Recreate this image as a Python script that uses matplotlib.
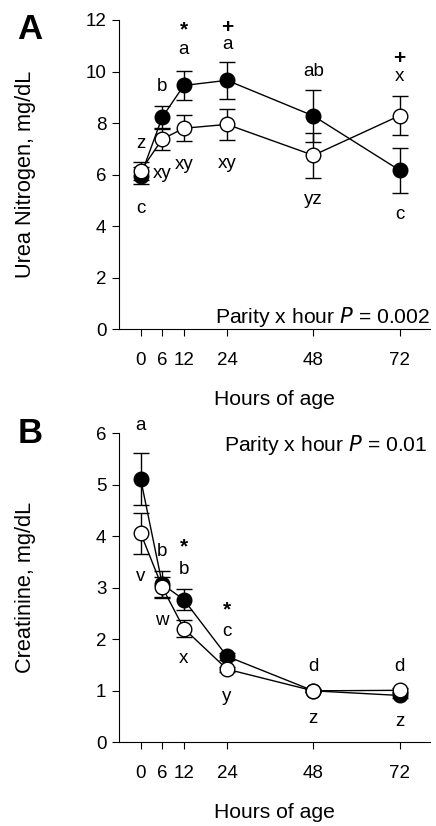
import matplotlib
matplotlib.use("Agg")
import matplotlib.pyplot as plt

plt.rcParams['font.family'] = ['Liberation Sans', 'DejaVu Sans']

hours = [0, 6, 12, 24, 48, 72]
xtick_labels = ['0', '6', '12', '24', '48', '72']

# Panel A: urea nitrogen (mg/dL)
urea_filled = [5.95, 8.23, 9.46, 9.66, 8.28, 6.17]
urea_filled_err = [0.33, 0.45, 0.58, 0.72, 1.00, 0.87]
urea_open = [6.15, 7.38, 7.80, 7.95, 6.75, 8.29]
urea_open_err = [0.35, 0.42, 0.50, 0.60, 0.88, 0.77]
urea_labels = [(12, 11.62, '*'), (12, 10.85, 'a'), (24, 11.69, '+'), (24, 11.04, 'a'),
               (6, 9.42, 'b'), (0, 7.22, 'z'), (0, 4.70, 'c'), (6, 6.06, 'xy'),
               (12, 6.38, 'xy'), (24, 6.45, 'xy'), (48, 10.0, 'ab'), (48, 5.02, 'yz'),
               (72, 10.52, '+'), (72, 9.81, 'x'), (72, 4.44, 'c')]

# Panel B: creatinine (mg/dL)
creat_filled = [5.11, 3.07, 2.77, 1.67, 1.00, 0.91]
creat_filled_err = [0.50, 0.25, 0.20, 0.07, 0.03, 0.04]
creat_open = [4.06, 3.01, 2.21, 1.42, 1.00, 1.01]
creat_open_err = [0.40, 0.20, 0.16, 0.05, 0.03, 0.04]
creat_labels = [(0, 6.16, 'a'), (6, 3.70, 'b'), (0, 3.22, 'v'), (12, 3.80, '*'),
                (12, 3.36, 'b'), (6, 2.36, 'w'), (12, 1.63, 'x'), (24, 2.57, '*'),
                (24, 2.15, 'c'), (24, 0.89, 'y'), (48, 1.47, 'd'), (48, 0.47, 'z'),
                (72, 1.47, 'd'), (72, 0.40, 'z')]

fig = plt.figure(figsize=(4.36, 8.26), dpi=100)

fs = 13.5      # tick labels and letter annotations
fs_lab = 15.2  # axis labels and P-value text

def panel(ax, yf, yfe, yo, yoe, labels, ylim, yticks, ylabel, letter, letter_y,
          ptext, ptxt_x, ptxt_y):
    ax.errorbar(hours, yf, yerr=yfe, fmt='-o', color='black', mfc='black', mec='black',
                ms=10.5, lw=1.0, elinewidth=1.0, capsize=5.5, capthick=1.0, zorder=2)
    ax.errorbar(hours, yo, yerr=yoe, fmt='-o', color='black', mfc='white', mec='black',
                ms=10.5, mew=1.0, lw=1.0, elinewidth=1.0, capsize=5.5, capthick=1.0, zorder=3)
    for x, y, t in labels:
        if t in ('*', '+'):
            ax.text(x, y, t, ha='center', va='center', fontsize=fs + 1.5, fontweight='bold')
        else:
            ax.text(x, y, t, ha='center', va='center', fontsize=fs)
    ax.set_xlim(-5.9, 80.4)
    ax.set_ylim(*ylim)
    ax.set_xticks(hours)
    ax.set_xticklabels(xtick_labels)
    ax.set_yticks(yticks)
    ax.spines['top'].set_visible(False)
    ax.spines['right'].set_visible(False)
    ax.tick_params(axis='both', direction='out', labelsize=fs, length=5, width=0.8)
    ax.tick_params(axis='x', pad=11)
    ax.tick_params(axis='y', pad=4.5)
    ax.set_xlabel('Hours of age', fontsize=fs_lab, va='center')
    ax.xaxis.set_label_coords(0.5, -0.226)
    ax.set_ylabel(ylabel, fontsize=fs_lab + 0.5, va='center')
    ax.yaxis.set_label_coords(-0.304, 0.5)
    ax.text(ptxt_x, ptxt_y, ptext, ha='right', va='center', fontsize=fs_lab)
    ax.text(-0.288, letter_y, letter, transform=ax.transAxes, fontsize=25,
            fontweight='bold', ha='center', va='center')

axA = fig.add_axes([0.274, 0.6013, 0.712, 0.3745])
panel(axA, urea_filled, urea_filled_err, urea_open, urea_open_err, urea_labels,
      (0, 12), [0, 2, 4, 6, 8, 10, 12], 'Urea Nitrogen, mg/dL', 'A', 0.968,
      'Parity x hour $\\it{P}$ = 0.002', 80.3, 0.49)

axB = fig.add_axes([0.274, 0.1013, 0.712, 0.3741])
panel(axB, creat_filled, creat_filled_err, creat_open, creat_open_err, creat_labels,
      (0, 6), [0, 1, 2, 3, 4, 5, 6], 'Creatinine, mg/dL', 'B', 1.0,
      'Parity x hour $\\it{P}$ = 0.01', 79.8, 5.77)

fig.savefig('out.png', dpi=100)
